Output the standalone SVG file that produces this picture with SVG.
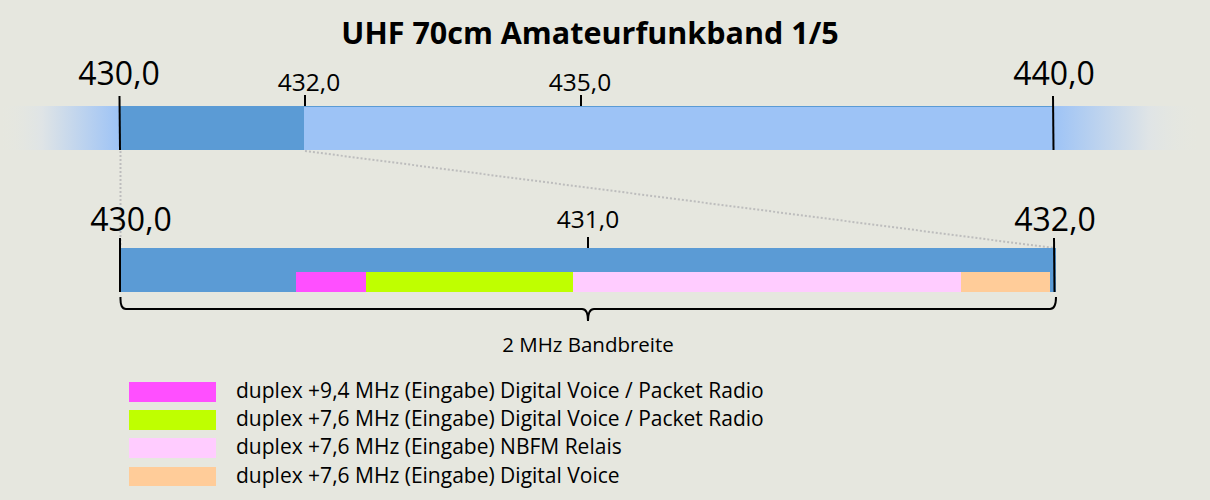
<svg xmlns="http://www.w3.org/2000/svg" width="1210" height="500" viewBox="0 0 1210 500">
<style>
.t{font-family:"Segoe UI","Open Sans","Noto Sans","Liberation Sans",sans-serif;fill:#000}
.big{font-size:32px}
.mid{font-size:24.5px}
.leg{font-family:"Open Sans","Noto Sans",sans-serif;font-size:21px}
.tick{stroke:#000;stroke-width:2;fill:none}
.dot{stroke:#bdbdbd;stroke-width:2;stroke-dasharray:2 2;fill:none}
</style>
<defs>
<linearGradient id="gl" x1="0" y1="0" x2="1" y2="0">
<stop offset="0" stop-color="#e6e8e0" stop-opacity="0"/>
<stop offset="0.35" stop-color="#dfe4e6"/>
<stop offset="1" stop-color="#9dc3f6"/>
</linearGradient>
<linearGradient id="gr" x1="1" y1="0" x2="0" y2="0">
<stop offset="0" stop-color="#e6e8e0" stop-opacity="0"/>
<stop offset="0.35" stop-color="#dfe4e6"/>
<stop offset="1" stop-color="#9dc3f6"/>
</linearGradient>
</defs>
<rect width="1210" height="500" fill="#e6e7df"/>
<text class="t" x="590" y="44" text-anchor="middle" font-size="30.5" font-weight="bold">UHF 70cm Amateurfunkband 1/5</text>

<g id="overview">
<rect x="0" y="106" width="120" height="44" fill="url(#gl)"/>
<rect x="1053" y="106" width="147" height="44" fill="url(#gr)"/>
<rect x="120" y="106" width="184" height="44" fill="#5b9bd5"/>
<rect x="304" y="106" width="749" height="44" fill="#9dc3f6"/>
<line x1="304" y1="106.5" x2="1053" y2="106.5" stroke="#5b9bd5" stroke-width="1"/>
</g>

<g id="connectors">
<line class="dot" x1="120.5" y1="151" x2="120.5" y2="246"/>
<line class="dot" x1="305" y1="151" x2="1054" y2="248"/>
</g>

<g id="overview-ticks">
<line class="tick" x1="119.5" y1="96" x2="120" y2="150"/>
<line class="tick" x1="305" y1="95" x2="305" y2="106"/>
<line class="tick" x1="581" y1="95" x2="581" y2="106"/>
<line class="tick" x1="1053" y1="96" x2="1053.5" y2="150"/>
<text class="t big" x="119" y="85" text-anchor="middle">430,0</text>
<text class="t mid" x="309" y="91" text-anchor="middle">432,0</text>
<text class="t mid" x="580" y="91" text-anchor="middle">435,0</text>
<text class="t big" x="1054" y="85" text-anchor="middle">440,0</text>
</g>

<g id="detail">
<rect x="120" y="248" width="936" height="44" fill="#5b9bd5"/>
<rect x="296" y="272" width="70" height="20" fill="#ff4fff"/>
<rect x="366" y="272" width="207" height="20" fill="#bfff00"/>
<rect x="573" y="272" width="388" height="20" fill="#ffccff"/>
<rect x="961" y="272" width="89" height="20" fill="#ffcc99"/>
<line class="tick" x1="120" y1="238" x2="120" y2="292"/>
<line class="tick" x1="588" y1="237" x2="588" y2="248"/>
<line class="tick" x1="1054" y1="238" x2="1054.5" y2="292"/>
<text class="t big" x="131" y="231" text-anchor="middle">430,0</text>
<text class="t mid" x="588" y="228" text-anchor="middle">431,0</text>
<text class="t big" x="1055" y="231" text-anchor="middle">432,0</text>
</g>

<g id="brace">
<path class="tick" d="M120.5,297 Q120,309 126,309 L582,309 Q588,309 588,321 Q588,309 594,309 L1050,309 Q1056,309 1056,297"/>
<text class="t" x="588" y="352" text-anchor="middle" font-size="20.5">2 MHz Bandbreite</text>
</g>

<g id="legend">
<rect x="129" y="382" width="87" height="20" fill="#ff4fff"/>
<rect x="129" y="410" width="87" height="20" fill="#bfff00"/>
<rect x="129" y="438" width="87" height="20" fill="#ffccff"/>
<rect x="129" y="467" width="87" height="19" fill="#ffcc99"/>
<text class="t leg" x="236" y="398">duplex +9,4 MHz (Eingabe) Digital Voice / Packet Radio</text>
<text class="t leg" x="236" y="426">duplex +7,6 MHz (Eingabe) Digital Voice / Packet Radio</text>
<text class="t leg" x="236" y="454">duplex +7,6 MHz (Eingabe) NBFM Relais</text>
<text class="t leg" x="236" y="483">duplex +7,6 MHz (Eingabe) Digital Voice</text>
</g>
</svg>
